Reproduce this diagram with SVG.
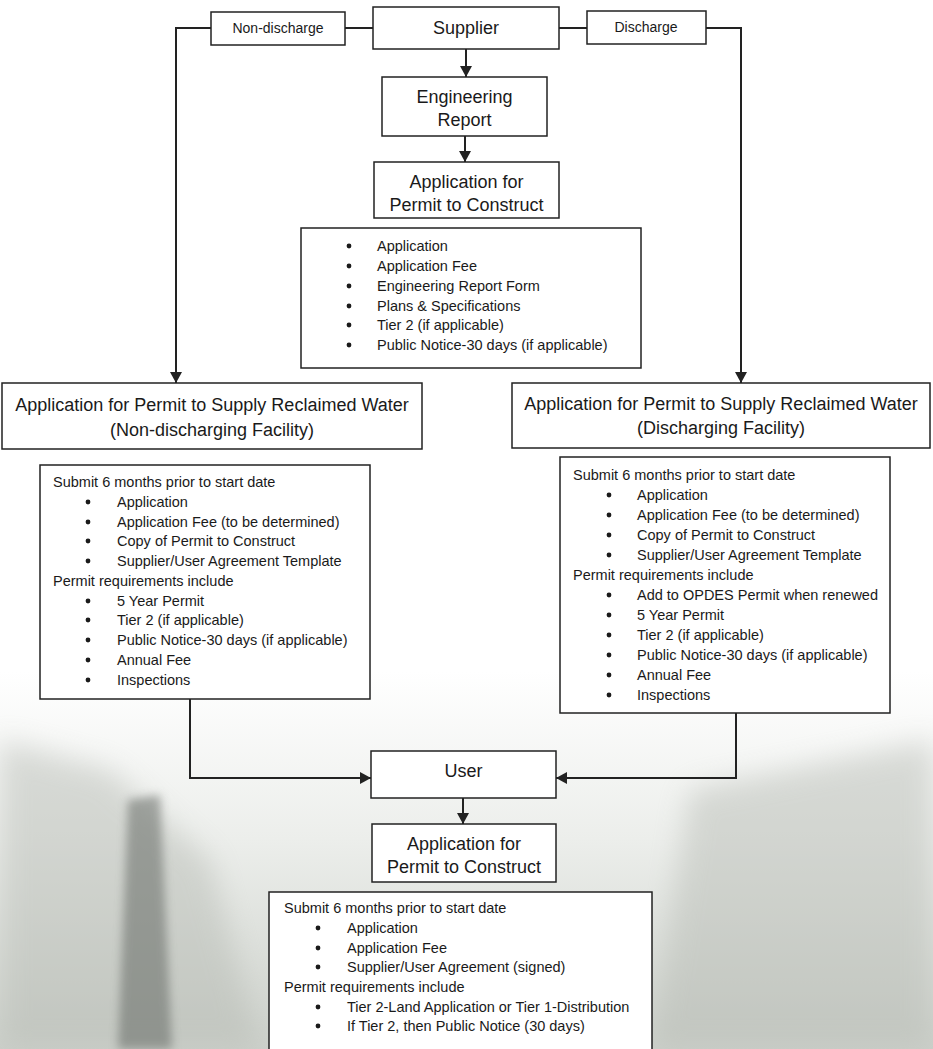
<svg xmlns="http://www.w3.org/2000/svg" width="933" height="1049" viewBox="0 0 933 1049">
  <defs>
    <linearGradient id="bgGrad" x1="0" y1="0" x2="0" y2="1">
      <stop offset="0" stop-color="#ffffff"/>
      <stop offset="0.64" stop-color="#ffffff"/>
      <stop offset="0.8" stop-color="#eceeeb"/>
      <stop offset="1" stop-color="#cdd1cb"/>
    </linearGradient>
    <filter id="soft" filterUnits="userSpaceOnUse" x="-200" y="500" width="1333" height="700">
      <feGaussianBlur stdDeviation="14"/>
    </filter>
    <filter id="trunk" filterUnits="userSpaceOnUse" x="0" y="700" width="300" height="400">
      <feGaussianBlur stdDeviation="5"/>
    </filter>
    <marker id="arrow" markerUnits="userSpaceOnUse" markerWidth="12" markerHeight="12" refX="11" refY="6" orient="auto">
      <path d="M0,0 L11,6 L0,12 z" fill="#222"/>
    </marker>
    <style>
      .box { fill: #ffffff; stroke: #222; stroke-width: 1.5; }
      .conn { fill: none; stroke: #222; stroke-width: 2; }
      .h { font-family: "Liberation Sans", Arial, sans-serif; font-size: 18px; fill: #1a1a1a; text-anchor: middle; }
      .s { font-family: "Liberation Sans", Arial, sans-serif; font-size: 14px; fill: #1a1a1a; text-anchor: middle; }
      .t { font-family: "Liberation Sans", Arial, sans-serif; font-size: 14.5px; fill: #1a1a1a; }
      .b { fill: #1a1a1a; }
    </style>
  </defs>

  <g id="background">
    <rect x="0" y="0" width="933" height="1049" fill="url(#bgGrad)"/>
    <path d="M0,740 L110,770 L210,860 L260,1049 L0,1049 z" fill="#b4b8b1" opacity="0.45" filter="url(#soft)"/>
    <path d="M690,790 L933,740 L933,1049 L650,1049 z" fill="#b4b8b1" opacity="0.45" filter="url(#soft)"/>
    <path d="M128,800 L160,795 L172,1049 L118,1049 z" fill="#5d625d" opacity="0.5" filter="url(#trunk)"/>
  </g>

  <g id="connectors">
    <line class="conn" x1="345" y1="28" x2="373" y2="28"/>
    <line class="conn" x1="559" y1="28" x2="587" y2="28"/>
    <path class="conn" d="M211,28 H176 V383" marker-end="url(#arrow)"/>
    <path class="conn" d="M706,28 H741 V383" marker-end="url(#arrow)"/>
    <path class="conn" d="M466,49 V77" marker-end="url(#arrow)"/>
    <path class="conn" d="M465,136 V162" marker-end="url(#arrow)"/>
    <path class="conn" d="M190,699 V778 H371" marker-end="url(#arrow)"/>
    <path class="conn" d="M736,713 V778 H556" marker-end="url(#arrow)"/>
    <path class="conn" d="M463,798 V824" marker-end="url(#arrow)"/>
  </g>

  <g id="non-discharge">
    <rect class="box" x="211" y="12" width="134" height="33"/>
    <text class="s" x="278" y="33">Non-discharge</text>
  </g>

  <g id="supplier">
    <rect class="box" x="373" y="7" width="186" height="42"/>
    <text class="h" x="466" y="34">Supplier</text>
  </g>

  <g id="discharge">
    <rect class="box" x="587" y="11" width="119" height="33"/>
    <text class="s" x="646" y="32">Discharge</text>
  </g>

  <g id="engineering-report">
    <rect class="box" x="382" y="77" width="165" height="59"/>
    <text class="h" x="464.5" y="103">Engineering</text>
    <text class="h" x="464.5" y="126">Report</text>
  </g>

  <g id="supplier-permit-construct">
    <rect class="box" x="374" y="162" width="185" height="56"/>
    <text class="h" x="466.5" y="188">Application for</text>
    <text class="h" x="466.5" y="211">Permit to Construct</text>
  </g>

  <g id="supplier-construct-items">
    <rect class="box" x="301" y="228" width="340" height="140"/>
    <circle class="b" cx="349" cy="246" r="2.4"/>
    <text class="t" x="377" y="251">Application</text>
    <circle class="b" cx="349" cy="266" r="2.4"/>
    <text class="t" x="377" y="271">Application Fee</text>
    <circle class="b" cx="349" cy="286" r="2.4"/>
    <text class="t" x="377" y="291">Engineering Report Form</text>
    <circle class="b" cx="349" cy="306" r="2.4"/>
    <text class="t" x="377" y="311">Plans &amp; Specifications</text>
    <circle class="b" cx="349" cy="325" r="2.4"/>
    <text class="t" x="377" y="330">Tier 2 (if applicable)</text>
    <circle class="b" cx="349" cy="345" r="2.4"/>
    <text class="t" x="377" y="350">Public Notice-30 days (if applicable)</text>
  </g>

  <g id="supply-non-discharging">
    <rect class="box" x="2" y="383" width="420" height="66"/>
    <text class="h" x="212" y="411">Application for Permit to Supply Reclaimed Water</text>
    <text class="h" x="212" y="436">(Non-discharging Facility)</text>
  </g>

  <g id="supply-discharging">
    <rect class="box" x="512" y="383" width="418" height="65"/>
    <text class="h" x="721" y="410">Application for Permit to Supply Reclaimed Water</text>
    <text class="h" x="721" y="434">(Discharging Facility)</text>
  </g>

  <g id="non-discharging-items">
    <rect class="box" x="40" y="465" width="330" height="234"/>
    <text class="t" x="53" y="487">Submit 6 months prior to start date</text>
    <circle class="b" cx="88" cy="502" r="2.4"/>
    <text class="t" x="117" y="507">Application</text>
    <circle class="b" cx="88" cy="522" r="2.4"/>
    <text class="t" x="117" y="527">Application Fee (to be determined)</text>
    <circle class="b" cx="88" cy="541" r="2.4"/>
    <text class="t" x="117" y="546">Copy of Permit to Construct</text>
    <circle class="b" cx="88" cy="561" r="2.4"/>
    <text class="t" x="117" y="566">Supplier/User Agreement Template</text>
    <text class="t" x="53" y="586">Permit requirements include</text>
    <circle class="b" cx="88" cy="601" r="2.4"/>
    <text class="t" x="117" y="606">5 Year Permit</text>
    <circle class="b" cx="88" cy="620" r="2.4"/>
    <text class="t" x="117" y="625">Tier 2 (if applicable)</text>
    <circle class="b" cx="88" cy="640" r="2.4"/>
    <text class="t" x="117" y="645">Public Notice-30 days (if applicable)</text>
    <circle class="b" cx="88" cy="660" r="2.4"/>
    <text class="t" x="117" y="665">Annual Fee</text>
    <circle class="b" cx="88" cy="680" r="2.4"/>
    <text class="t" x="117" y="685">Inspections</text>
  </g>

  <g id="discharging-items">
    <rect class="box" x="560" y="457" width="330" height="256"/>
    <text class="t" x="573" y="480">Submit 6 months prior to start date</text>
    <circle class="b" cx="609" cy="495" r="2.4"/>
    <text class="t" x="637" y="500">Application</text>
    <circle class="b" cx="609" cy="515" r="2.4"/>
    <text class="t" x="637" y="520">Application Fee (to be determined)</text>
    <circle class="b" cx="609" cy="535" r="2.4"/>
    <text class="t" x="637" y="540">Copy of Permit to Construct</text>
    <circle class="b" cx="609" cy="555" r="2.4"/>
    <text class="t" x="637" y="560">Supplier/User Agreement Template</text>
    <text class="t" x="573" y="580">Permit requirements include</text>
    <circle class="b" cx="609" cy="595" r="2.4"/>
    <text class="t" x="637" y="600">Add to OPDES Permit when renewed</text>
    <circle class="b" cx="609" cy="615" r="2.4"/>
    <text class="t" x="637" y="620">5 Year Permit</text>
    <circle class="b" cx="609" cy="635" r="2.4"/>
    <text class="t" x="637" y="640">Tier 2 (if applicable)</text>
    <circle class="b" cx="609" cy="655" r="2.4"/>
    <text class="t" x="637" y="660">Public Notice-30 days (if applicable)</text>
    <circle class="b" cx="609" cy="675" r="2.4"/>
    <text class="t" x="637" y="680">Annual Fee</text>
    <circle class="b" cx="609" cy="695" r="2.4"/>
    <text class="t" x="637" y="700">Inspections</text>
  </g>

  <g id="user">
    <rect class="box" x="371" y="751" width="185" height="47"/>
    <text class="h" x="463.5" y="777">User</text>
  </g>

  <g id="user-permit-construct">
    <rect class="box" x="372" y="824" width="184" height="58"/>
    <text class="h" x="464" y="850">Application for</text>
    <text class="h" x="464" y="873">Permit to Construct</text>
  </g>

  <g id="user-construct-items">
    <rect class="box" x="269" y="892" width="383" height="170"/>
    <text class="t" x="284" y="913">Submit 6 months prior to start date</text>
    <circle class="b" cx="318" cy="928" r="2.4"/>
    <text class="t" x="347" y="933">Application</text>
    <circle class="b" cx="318" cy="948" r="2.4"/>
    <text class="t" x="347" y="953">Application Fee</text>
    <circle class="b" cx="318" cy="967" r="2.4"/>
    <text class="t" x="347" y="972">Supplier/User Agreement (signed)</text>
    <text class="t" x="284" y="992">Permit requirements include</text>
    <circle class="b" cx="318" cy="1007" r="2.4"/>
    <text class="t" x="347" y="1012">Tier 2-Land Application or Tier 1-Distribution</text>
    <circle class="b" cx="318" cy="1026" r="2.4"/>
    <text class="t" x="347" y="1031">If Tier 2, then Public Notice (30 days)</text>
  </g>
</svg>
